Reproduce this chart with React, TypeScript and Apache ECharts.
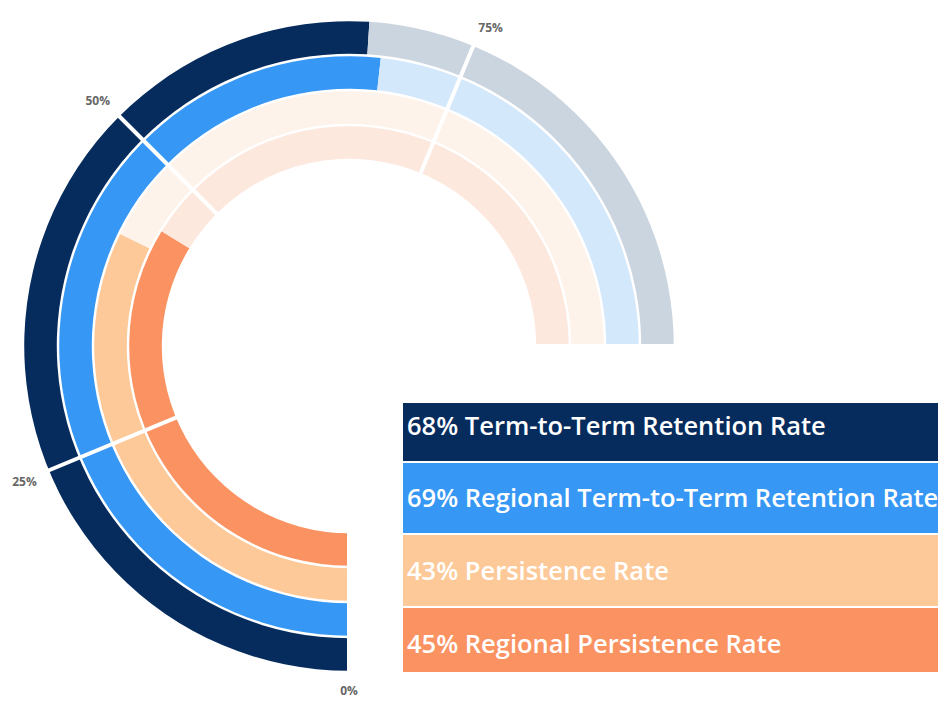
import React, { useEffect, useRef } from "react";
import * as echarts from "echarts";

// Data
const seriesNames = [
  "Term-to-Term Retention Rate",
  "Regional Term-to-Term Retention Rate",
  "Persistence Rate",
  "Regional Persistence Rate",
];
const seriesValues = [68, 69, 43, 45];
const trackTotal = 100;
const angleTickLabels = [0, 25, 50, 75];

// Styles
const barColors = ["#062c5e", "#3797f4", "#fdc998", "#fb9261"];
const trackColors = ["#cbd5e0", "#d4e8fc", "#fef3ea", "#fde8de"];
const legendRows = [
  { y: 403, h: 58, ty: 425 },
  { y: 463, h: 70, ty: 497 },
  { y: 535, h: 71, ty: 570 },
  { y: 608, h: 64, ty: 643 },
];

export default function App() {
  const ref = useRef<HTMLDivElement>(null);
  useEffect(() => {
    if (!ref.current) return;
    const chart = echarts.init(ref.current, null, { renderer: "svg" });
    const legendGraphics: any[] = [];
    seriesNames.forEach((name, i) => {
      const r = legendRows[i];
      legendGraphics.push({
        type: "rect",
        shape: { x: 403, y: r.y, width: 535, height: r.h },
        style: { fill: barColors[i] },
        z: 100,
      });
      legendGraphics.push({
        type: "text",
        x: 407,
        y: r.ty,
        style: {
          text: `${seriesValues[i]}% ${name}`,
          fill: "#ffffff",
          font: "600 25.5px 'Open Sans'",
          verticalAlign: "middle",
          align: "left",
        },
        z: 101,
      });
    });
    chart.setOption({
      animation: false,
      polar: { center: [349, 346], radius: [186, 326] },
      angleAxis: {
        type: "value",
        min: 0,
        max: 400 / 3,
        interval: 25,
        startAngle: 270,
        clockwise: true,
        z: 10,
        axisLine: { show: false },
        axisTick: { show: false },
        splitLine: { show: true, lineStyle: { color: "#ffffff", width: 4 } },
        axisLabel: {
          formatter: (v: number) => (angleTickLabels.includes(v) ? `${v}%` : ""),
          color: "#666666",
          fontSize: 12,
          fontWeight: "bold",
          fontFamily: "Open Sans",
          margin: 12,
        },
      },
      radiusAxis: {
        type: "category",
        data: seriesNames,
        inverse: true,
        axisLine: { show: false },
        axisTick: { show: false },
        axisLabel: { show: false },
        splitLine: { show: false },
      },
      series: [
        {
          type: "bar",
          coordinateSystem: "polar",
          name: "value",
          stack: "ring",
          barCategoryGap: "7%",
          data: seriesValues.map((v, i) => ({ value: v, itemStyle: { color: barColors[i] } })),
        },
        {
          type: "bar",
          coordinateSystem: "polar",
          name: "track",
          stack: "ring",
          barCategoryGap: "7%",
          silent: true,
          data: seriesValues.map((v, i) => ({ value: trackTotal - v, itemStyle: { color: trackColors[i] } })),
        },
      ],
      graphic: legendGraphics,
    });
    return () => chart.dispose();
  }, []);
  return (
    <div
      ref={ref}
      style={{ position: "absolute", left: 0, top: 0, width: 938, height: 702, background: "#fff" }}
    />
  );
}
